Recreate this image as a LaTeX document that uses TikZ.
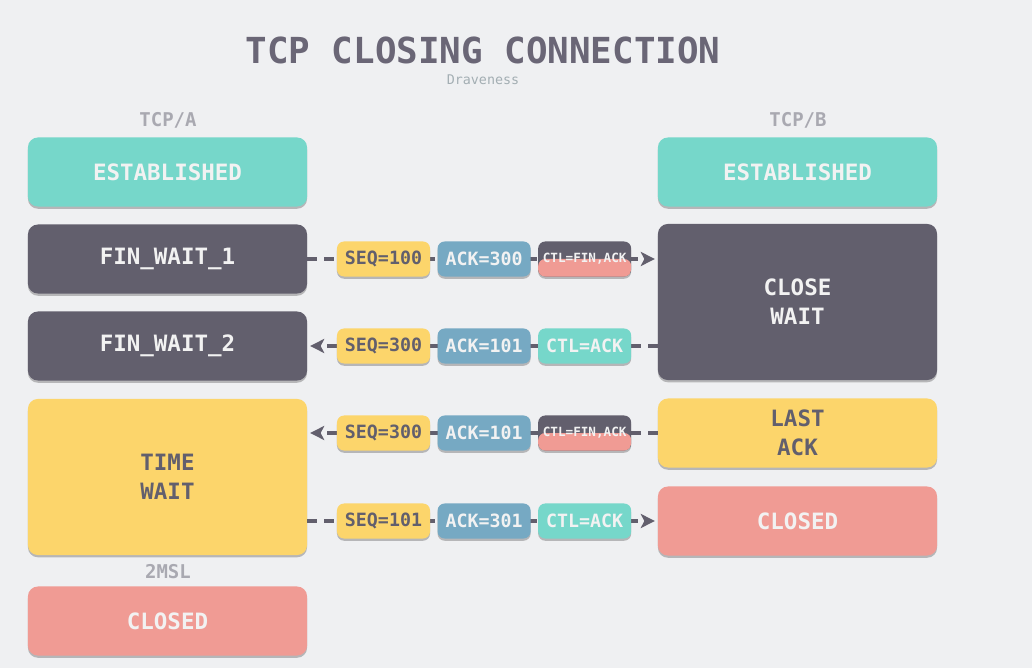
\documentclass[tikz,border=0pt]{standalone}
\usepackage{fontspec}
\setmonofont{DejaVu Sans Mono}
\usepackage{tikz}
\usetikzlibrary{arrows.meta,positioning,shadows}
\definecolor{bgpaper}{HTML}{EFF0F2}
\definecolor{statedark}{HTML}{625F6D}
\definecolor{stateteal}{HTML}{76D7CA}
\definecolor{stateyellow}{HTML}{FCD56B}
\definecolor{statered}{HTML}{F09B94}
\definecolor{packetblue}{HTML}{76A9C3}
\definecolor{titlegray}{HTML}{6A6676}
\definecolor{labelgray}{HTML}{A9A9B1}
\definecolor{authorgray}{HTML}{A3AEB3}
\definecolor{softwhite}{HTML}{F2F2F2}
\tikzset{
  softshadow/.style={
    drop shadow={shadow xshift=0pt, shadow yshift=-1.6pt, opacity=0.35, fill=black!70}
  },
  statebox/.style={
    softshadow,
    rounded corners=7pt,
    minimum width=6.975cm,
    minimum height=1.725cm,
    inner sep=0pt,
    align=center,
    text=softwhite,
    font=\ttfamily\bfseries\fontsize{16}{20.6}\selectfont
  },
  tallbox/.style={
    minimum height=3.9cm
  },
  darkstate/.style={statebox, fill=statedark},
  tealstate/.style={statebox, fill=stateteal},
  yellowstate/.style={statebox, fill=stateyellow, text=statedark},
  redstate/.style={statebox, fill=statered},
  packet/.style={
    softshadow,
    rounded corners=5pt,
    minimum width=2.325cm,
    minimum height=0.875cm,
    inner sep=0pt,
    text=softwhite,
    font=\ttfamily\bfseries\fontsize{13}{15}\selectfont
  },
  seqpacket/.style={packet, fill=stateyellow, text=statedark},
  ackpacket/.style={packet, fill=packetblue},
  ctlpacket/.style={packet, fill=stateteal},
  finpacket/.style={
    packet,
    fill=statedark,
    path picture={
      \fill[statered] (path picture bounding box.west) rectangle (path picture bounding box.south east);
    },
    font=\ttfamily\bfseries\fontsize{9}{11}\selectfont
  },
  sidelabel/.style={
    text=labelgray,
    font=\ttfamily\bfseries\fontsize{13.5}{16}\selectfont
  },
  flowarrow/.style={
    -{Stealth[length=10pt,width=10pt,inset=2.5pt]},
    line width=2.8pt,
    dash pattern=on 7pt off 5pt,
    draw=statedark,
    shorten >=2pt
  }
}
\begin{document}
\begin{tikzpicture}[x=0.025cm, y=-0.025cm]
    \fill[bgpaper] (0,0) rectangle (1032,668);

    % title
    \node[text=titlegray, font=\ttfamily\bfseries\fontsize{25.5}{30}\selectfont] (title) at (483,50) {TCP CLOSING CONNECTION};
    \node[text=authorgray, font=\ttfamily\fontsize{9.5}{11}\selectfont] (author) at (483,80) {Draveness};

    % TCP/A
    \node[sidelabel] (tcpa) at (168,120) {TCP/A};
    \node[tealstate] (establisheda) at (167.5,172) {ESTABLISHED};
    \node[darkstate] (finwaitone) at (167.5,259) {FIN\_WAIT\_1};
    \node[darkstate] (finwaittwo) at (167.5,346) {FIN\_WAIT\_2};
    \node[yellowstate, tallbox] (timewait) at (167.5,477) {TIME\\WAIT};
    \node[sidelabel] (twomsl) at (168,572) {2MSL};
    \node[redstate] (closeda) at (167.5,621) {CLOSED};

    % TCP/B
    \node[sidelabel] (tcpb) at (798,120) {TCP/B};
    \node[tealstate] (establishedb) at (797.5,172) {ESTABLISHED};
    \node[darkstate, tallbox] (closewait) at (797.5,302) {CLOSE\\WAIT};
    \node[yellowstate] (lastack) at (797.5,433) {LAST\\ACK};
    \node[redstate] (closedb) at (797.5,521) {CLOSED};

    % segments
    \draw[flowarrow] (finwaitone.east) -- (finwaitone.east -| closewait.west);
    \draw[flowarrow] (closewait.west |- finwaittwo.east) -- (finwaittwo.east);
    \draw[flowarrow] (lastack.west) -- (lastack.west -| timewait.east);
    \draw[flowarrow] (timewait.east |- closedb.west) -- (closedb.west);

    \node[seqpacket] (seqone) at (383.5,259) {SEQ=100};
    \node[ackpacket, right=0.175cm of seqone] (ackone) {ACK=300};
    \node[finpacket, right=0.175cm of ackone] (ctlone) {CTL=FIN,ACK};

    \node[seqpacket] (seqtwo) at (383.5,346) {SEQ=300};
    \node[ackpacket, right=0.175cm of seqtwo] (acktwo) {ACK=101};
    \node[ctlpacket, right=0.175cm of acktwo] (ctltwo) {CTL=ACK};

    \node[seqpacket] (seqthree) at (383.5,433) {SEQ=300};
    \node[ackpacket, right=0.175cm of seqthree] (ackthree) {ACK=101};
    \node[finpacket, right=0.175cm of ackthree] (ctlthree) {CTL=FIN,ACK};

    \node[seqpacket] (seqfour) at (383.5,521) {SEQ=101};
    \node[ackpacket, right=0.175cm of seqfour] (ackfour) {ACK=301};
    \node[ctlpacket, right=0.175cm of ackfour] (ctlfour) {CTL=ACK};
\end{tikzpicture}
\end{document}
